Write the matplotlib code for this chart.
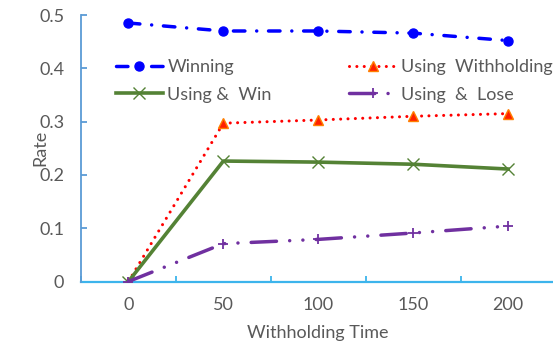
import matplotlib
matplotlib.use("Agg")
import matplotlib.pyplot as plt

# Data
categories = ["0", "50", "100", "150", "200"]
winning = [0.485, 0.470, 0.470, 0.466, 0.452]
using_withholding = [0.0, 0.297, 0.303, 0.310, 0.315]
using_win = [0.0, 0.226, 0.224, 0.220, 0.211]
using_lose = [0.0, 0.071, 0.079, 0.091, 0.104]
y_ticks = [0, 0.1, 0.2, 0.3, 0.4, 0.5]
y_tick_labels = ["0", "0.1", "0.2", "0.3", "0.4", "0.5"]

plt.rcParams["font.family"] = ["Lato", "DejaVu Sans"]
TXT = "#595959"
FS = 13

W, H = 553, 348
fig = plt.figure(figsize=(W / 100, H / 100), dpi=100)
ax_left, ax_right = 81, 555.5
ax_top, ax_bottom = 15, 281.5
ax = fig.add_axes([ax_left / W, (H - ax_bottom) / H,
                   (ax_right - ax_left) / W, (ax_bottom - ax_top) / H])

x = list(range(len(categories)))

l_win, = ax.plot(x, winning, color="#0000FF", lw=2.5,
                 linestyle=(0, (3.3, 3.4, 0.01, 3.4)), dash_capstyle="round",
                 marker="o", markersize=6.5, label="Winning", zorder=3)
l_wh, = ax.plot(x, using_withholding, color="#FF0000", lw=2.2,
                linestyle=(0, (0.01, 2.4)), dash_capstyle="round",
                marker="^", markersize=7, markerfacecolor="#FF2000",
                markeredgecolor="#FF7F00", markeredgewidth=1.0,
                label="Using  Withholding", zorder=3)
l_uw, = ax.plot(x, using_win, color="#548235", lw=2.6, linestyle="-",
                marker="x", markersize=9, markeredgewidth=1.0,
                markeredgecolor="#548235",
                label="Using &  Win", zorder=3)
l_ul, = ax.plot(x, using_lose, color="#7030A0", lw=2.5,
                linestyle=(0, (7.3, 3.8, 0.01, 3.8, 0.01, 3.8)), dash_capstyle="round",
                marker="+", markersize=7.5, markeredgewidth=1.3,
                label="Using  &  Lose", zorder=3)

ax.set_xlim(-0.5, len(categories) - 0.5)
ax.set_ylim(0, 0.5)
ax.set_xticks(x)
ax.set_xticklabels(categories)
ax.set_xticks([i + 0.5 for i in range(-1, len(categories))], minor=True)
ax.set_yticks(y_ticks)
ax.set_yticklabels(y_tick_labels)

for side in ("top", "right"):
    ax.spines[side].set_visible(False)
ax.spines["left"].set_color("#5B9BD5")
ax.spines["left"].set_linewidth(1.3)
ax.spines["bottom"].set_color("#3CB4EC")
ax.spines["bottom"].set_linewidth(1.6)
ax.spines["bottom"].set_zorder(2)

ax.tick_params(axis="x", which="major", length=0, pad=11,
               labelsize=FS, labelcolor=TXT)
ax.tick_params(axis="x", which="minor", direction="in", length=4.5,
               width=1.3, color="#3CB4EC")
ax.tick_params(axis="y", direction="in", length=4.5, width=1.3,
               color="#5B9BD5", pad=12, labelsize=FS, labelcolor=TXT)

fig.text(40 / W, 1 - 148 / H, "Rate", rotation=90, ha="center", va="center",
         fontsize=FS, color=TXT)
fig.text(318 / W, 1 - 333 / H, "Withholding Time", ha="center", va="center",
         fontsize=FS, color=TXT)

# two rows, filled column by column
handles = [l_win, l_uw, l_wh, l_ul]
leg = ax.legend(handles=handles, labels=[h.get_label() for h in handles],
                ncol=2, frameon=False, loc="upper left",
                bbox_to_anchor=(116 / W, 1 - 59 / H), bbox_transform=fig.transFigure,
                fontsize=FS, handlelength=2.6, handletextpad=0.25,
                columnspacing=4.3, labelspacing=0.65, borderpad=0, borderaxespad=0)
for t in leg.get_texts():
    t.set_color(TXT)

fig.savefig("out.png", dpi=100)
